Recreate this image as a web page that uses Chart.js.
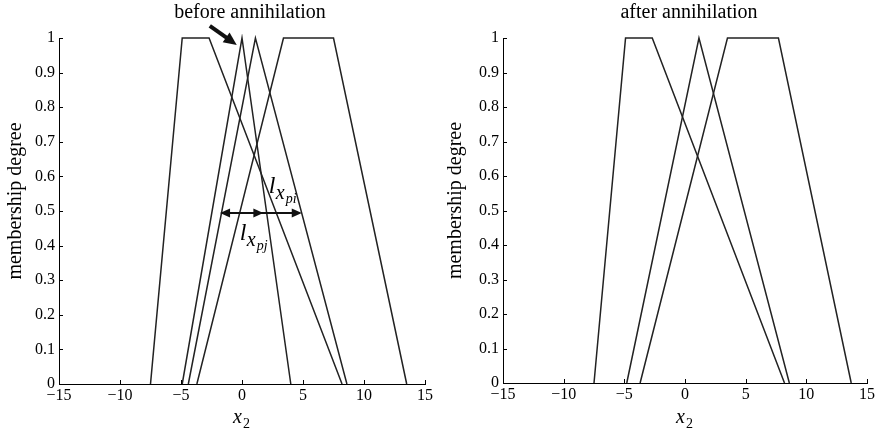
<!DOCTYPE html>
<html>
<head>
<meta charset="utf-8">
<script src="https://cdn.jsdelivr.net/npm/chart.js@4.4.1/dist/chart.umd.min.js"></script>
<style>
  html, body { margin: 0; padding: 0; background: #fff; }
  #wrap { position: relative; width: 877px; height: 430px; }
  .panel { position: absolute; top: 0; height: 430px; }
  #left { left: 0; width: 440px; }
  #right { left: 440px; width: 437px; }
</style>
</head>
<body>
<div id="wrap">
  <div class="panel" id="left"><canvas id="before"></canvas></div>
  <div class="panel" id="right"><canvas id="after"></canvas></div>
</div>
<script>
// Tick values
const X_TICKS = [-15, -10, -5, 0, 5, 10, 15];
const Y_TICKS = [0, 0.1, 0.2, 0.3, 0.4, 0.5, 0.6, 0.7, 0.8, 0.9, 1];

// Membership functions before annihilation
const beforeTrapLeftX = [-7.5, -4.9, -2.7, 8.2];
const beforeTrapLeftY = [0, 1, 1, 0];
const beforeNarrowX = [-4.9, 0, 4.0];
const beforeNarrowY = [0, 1, 0];
const beforeTriX = [-4.4, 1.1, 8.6];
const beforeTriY = [0, 1, 0];
const beforeTrapRightX = [-3.7, 3.4, 7.5, 13.5];
const beforeTrapRightY = [0, 1, 1, 0];

// Membership functions after annihilation
const afterTrapLeftX = [-7.5, -4.9, -2.7, 8.2];
const afterTrapLeftY = [0, 1, 1, 0];
const afterTriX = [-4.8, 1.15, 8.6];
const afterTriY = [0, 1, 0];
const afterTrapRightX = [-3.7, 3.5, 7.7, 13.7];
const afterTrapRightY = [0, 1, 1, 0];

// Annotations on the left panel (data units)
const pointerTail = [-2.64, 1.035];
const pointerTip = [-0.43, 0.98];
const spanY = 0.494;
const spanStart = -1.8;
const spanPj = 1.75;
const spanPi = 4.9;
const labelPi = [2.2, 0.552];
const labelPj = [-0.18, 0.416];

const SERIF = '"Liberation Serif", "Times New Roman", serif';
const INK = '#000';
const LINE = '#222';

function pts(xs, ys) {
    return xs.map((x, i) => ({ x: x, y: ys[i] }));
}

function fmtX(v) {
    return v < 0 ? '\u2212' + Math.abs(v) : String(v);
}

function fmtY(v) {
    return String(Math.round(v * 10) / 10);
}

function arrowHead(ctx, x, y, angle, len, half) {
    ctx.save();
    ctx.translate(x, y);
    ctx.rotate(angle);
    ctx.beginPath();
    ctx.moveTo(0, 0);
    ctx.lineTo(-len, -half);
    ctx.lineTo(-len, half);
    ctx.closePath();
    ctx.fill();
    ctx.restore();
}

function subLabel(ctx, x, y, sub) {
    ctx.fillStyle = INK;
    ctx.textAlign = 'left';
    ctx.textBaseline = 'alphabetic';
    ctx.font = 'italic 24px ' + SERIF;
    ctx.fillText('l', x, y);
    ctx.font = 'italic 20px ' + SERIF;
    ctx.fillText('x', x + 7, y + 6);
    ctx.font = 'italic 14px ' + SERIF;
    ctx.fillText(sub, x + 17, y + 10);
}

function decorPlugin(title, annotate) {
    return {
        id: 'decor',
        afterDraw(chart) {
            const ctx = chart.ctx;
            const area = chart.chartArea;
            const xs = chart.scales.x;
            const ys = chart.scales.y;
            const cx = (area.left + area.right) / 2;
            ctx.save();

            // inward ticks
            ctx.strokeStyle = INK;
            ctx.lineWidth = 1;
            ctx.beginPath();
            X_TICKS.forEach(v => {
                const px = Math.round(xs.getPixelForValue(v)) + 0.5;
                ctx.moveTo(px, area.bottom);
                ctx.lineTo(px, area.bottom - 4);
            });
            Y_TICKS.forEach(v => {
                const py = Math.round(ys.getPixelForValue(v)) + 0.5;
                ctx.moveTo(area.left, py);
                ctx.lineTo(area.left + 4, py);
            });
            ctx.stroke();

            // title
            ctx.fillStyle = INK;
            ctx.font = '20px ' + SERIF;
            ctx.textAlign = 'center';
            ctx.textBaseline = 'alphabetic';
            ctx.fillText(title, cx + (annotate ? 8 : 4), 18);

            // y axis title
            ctx.save();
            ctx.translate(16, (area.top + area.bottom) / 2 - 10);
            ctx.rotate(-Math.PI / 2);
            ctx.textBaseline = 'middle';
            ctx.fillText('membership degree', 0, 0);
            ctx.restore();

            // x axis title
            ctx.textAlign = 'left';
            ctx.font = 'italic 20px ' + SERIF;
            ctx.fillText('x', cx - 9, 423);
            ctx.font = '14px ' + SERIF;
            ctx.fillText('2', cx + 1, 428);

            if (annotate) {
                // pointer arrow
                const tx = xs.getPixelForValue(pointerTail[0]);
                const ty = ys.getPixelForValue(pointerTail[1]);
                const hx = xs.getPixelForValue(pointerTip[0]);
                const hy = ys.getPixelForValue(pointerTip[1]);
                const ang = Math.atan2(hy - ty, hx - tx);
                ctx.strokeStyle = '#111';
                ctx.fillStyle = '#111';
                ctx.lineWidth = 4;
                ctx.beginPath();
                ctx.moveTo(tx, ty);
                ctx.lineTo(hx - 10 * Math.cos(ang), hy - 10 * Math.sin(ang));
                ctx.stroke();
                arrowHead(ctx, hx, hy, ang, 13, 6);

                // width arrows
                const py = ys.getPixelForValue(spanY);
                const a = xs.getPixelForValue(spanStart);
                const b = xs.getPixelForValue(spanPj);
                const c = xs.getPixelForValue(spanPi);
                ctx.lineWidth = 2;
                ctx.beginPath();
                ctx.moveTo(a + 4, py);
                ctx.lineTo(c - 4, py);
                ctx.stroke();
                arrowHead(ctx, a, py, Math.PI, 10, 4.5);
                arrowHead(ctx, b, py, 0, 10, 4.5);
                arrowHead(ctx, c, py, 0, 10, 4.5);

                subLabel(ctx, xs.getPixelForValue(labelPi[0]), ys.getPixelForValue(labelPi[1]), 'pi');
                subLabel(ctx, xs.getPixelForValue(labelPj[0]), ys.getPixelForValue(labelPj[1]), 'pj');
            }
            ctx.restore();
        }
    };
}

function makeChart(canvasId, series, title, annotate, yWidth, xHeight, padRight) {
    const datasets = series.map(s => ({
        data: pts(s[0], s[1]),
        showLine: true,
        borderColor: LINE,
        borderWidth: 1.5,
        pointRadius: 0,
        fill: false,
        tension: 0,
        clip: 4,
    }));
    const tickFont = { family: SERIF, size: 16 };
    return new Chart(document.getElementById(canvasId), {
        type: 'scatter',
        data: { datasets: datasets },
        options: {
            responsive: true,
            maintainAspectRatio: false,
            animation: false,
            events: [],
            layout: { padding: { top: 38, right: padRight, left: 0, bottom: 0 } },
            plugins: {
                legend: { display: false },
                tooltip: { enabled: false },
            },
            scales: {
                x: {
                    type: 'linear',
                    min: -15,
                    max: 15,
                    afterBuildTicks: s => { s.ticks = X_TICKS.map(v => ({ value: v })); },
                    afterFit: s => { s.height = xHeight; },
                    ticks: {
                        color: INK,
                        font: tickFont,
                        padding: 2,
                        maxRotation: 0,
                        autoSkip: false,
                        callback: v => fmtX(v),
                    },
                    grid: { display: false, drawTicks: false },
                    border: { display: true, color: INK, width: 1 },
                },
                y: {
                    type: 'linear',
                    min: 0,
                    max: 1,
                    afterBuildTicks: s => { s.ticks = Y_TICKS.map(v => ({ value: v })); },
                    afterFit: s => { s.width = yWidth; },
                    ticks: {
                        color: INK,
                        font: tickFont,
                        padding: 4,
                        autoSkip: false,
                        callback: v => fmtY(v),
                    },
                    grid: { display: false, drawTicks: false },
                    border: { display: true, color: INK, width: 1 },
                },
            },
        },
        plugins: [decorPlugin(title, annotate)],
    });
}

makeChart('before', [
    [beforeTrapLeftX, beforeTrapLeftY],
    [beforeNarrowX, beforeNarrowY],
    [beforeTriX, beforeTriY],
    [beforeTrapRightX, beforeTrapRightY],
], 'before annihilation', true, 59, 46, 15);

makeChart('after', [
    [afterTrapLeftX, afterTrapLeftY],
    [afterTriX, afterTriY],
    [afterTrapRightX, afterTrapRightY],
], 'after annihilation', false, 63, 47, 10);
</script>
</body>
</html>
